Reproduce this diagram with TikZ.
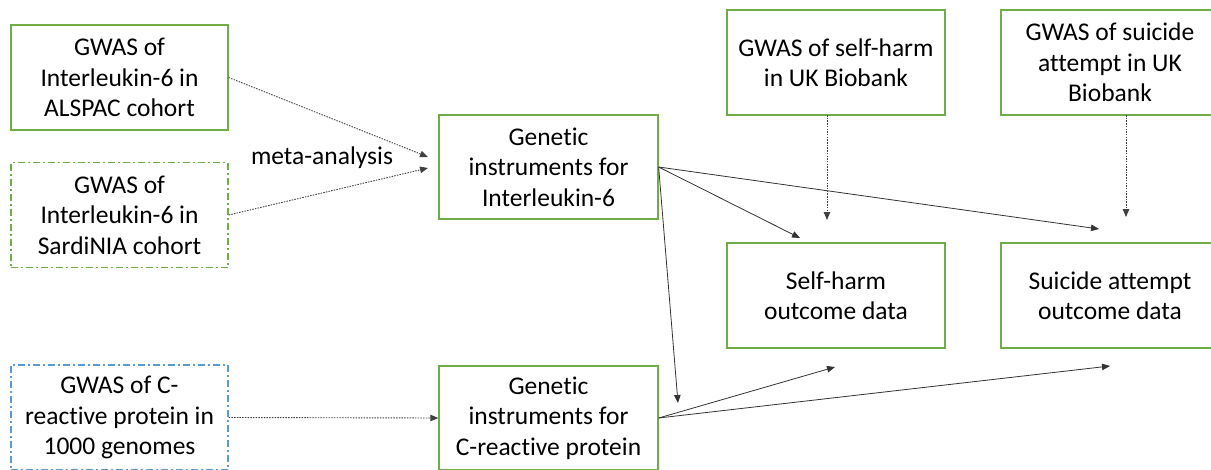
\documentclass[tikz,border=0pt]{standalone}
\usepackage{fontspec}
\setmainfont[Ligatures={NoCommon,NoRequired,NoContextual}]{Carlito}
\usetikzlibrary{arrows.meta,calc}
\definecolor{offgreen}{RGB}{112,173,71}
\definecolor{offblue}{RGB}{91,155,213}
\begin{document}
\begin{tikzpicture}[x=1pt,y=-1pt,
  box/.style={draw=offgreen,line width=1.3pt,minimum width=217pt,minimum height=105pt,align=center,font=\fontsize{25.5}{30.5}\selectfont,inner sep=0pt},
  dashdotbox/.style={box,dash pattern=on 7pt off 3pt on 2pt off 3pt},
  solidarrow/.style={draw=black!80,line width=0.8pt,-{Triangle[length=8pt,width=6.5pt]}},
  dotarrow/.style={solidarrow,draw=black!75,line width=0.9pt,dash pattern=on 1.5pt off 1.2pt},
  lbl/.style={font=\fontsize{25.5}{30.5}\selectfont,inner sep=0pt}]
\useasboundingbox (0,0) rectangle (1211,469);
% boxes
\node[box] (alspac) at (119.5,77.5) {GWAS of\\Interleukin-6 in\\ALSPAC cohort};
\node[dashdotbox] (sard) at (119.5,215) {GWAS of\\Interleukin-6 in\\SardiNIA cohort};
\node[dashdotbox,draw=offblue] (crpg) at (119.5,417.5) {GWAS of C-\\reactive protein in\\1000 genomes};
\node[box,minimum width=219pt,minimum height=104pt] (il6) at (548.5,167) {Genetic\\instruments for\\Interleukin-6};
\node[box,minimum width=219pt,minimum height=104pt] (crpi) at (548.5,418) {Genetic\\instruments for\\C-reactive protein};
\node[box,minimum width=218pt] (shg) at (836,62.5) {GWAS of self-harm\\in UK Biobank};
\node[box,minimum width=218pt] (sag) at (1110,62.5) {GWAS of suicide\\attempt in UK\\Biobank};
\node[box,minimum width=218pt] (sho) at (836,295.5) {Self-harm\\outcome data};
\node[box,minimum width=218pt] (sao) at (1110,295.5) {Suicide attempt\\outcome data};
\node[lbl] (meta) at (322,158) {meta-analysis};
% arrow end points
\coordinate (m1) at (428,157);
\coordinate (m2) at (428,168);
\coordinate (t1) at (800,238);
\coordinate (t2) at (1099,229);
\coordinate (t3) at (678,403);
\coordinate (t4) at (835,367);
\coordinate (t5) at (1110,366);
\coordinate (s1) at (827,115);
\coordinate (e1) at (827,220);
\coordinate (s2) at (1126,115);
\coordinate (e2) at (1126,217);
% connectors
\draw[dotarrow] (alspac.east) -- (m1);
\draw[dotarrow] (sard.east) -- (m2);
\draw[dotarrow] (crpg.east) -- (crpi.west);
\draw[dotarrow] (s1) -- (e1);
\draw[dotarrow] (s2) -- (e2);
\draw[solidarrow] (il6.east) -- (t1);
\draw[solidarrow] (il6.east) -- (t2);
\draw[solidarrow] (il6.east) -- (t3);
\draw[solidarrow] (crpi.east) -- (t4);
\draw[solidarrow] (crpi.east) -- (t5);
\end{tikzpicture}
\end{document}
